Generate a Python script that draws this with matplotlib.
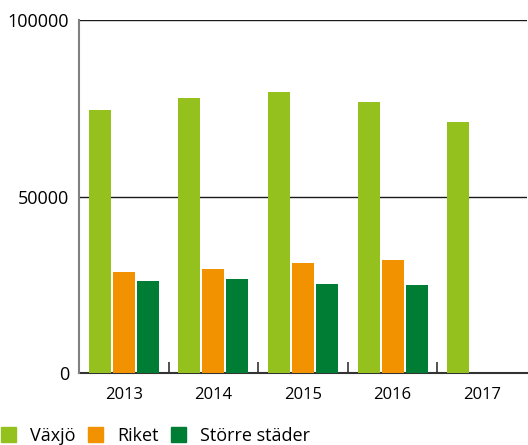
import matplotlib.pyplot as plt
import numpy as np
from matplotlib.patches import Patch

plt.rcParams["font.family"] = ["Open Sans", "DejaVu Sans"]

YEARS = ["2013", "2014", "2015", "2016", "2017"]
VAXJO = [74500, 77900, 79600, 76800, 71100]
RIKET = [28600, 29500, 31200, 32000]
STORRE = [26100, 26600, 25200, 24900]
SERIES = ["Växjö", "Riket", "Större städer"]
COLORS = ["#95c11f", "#f39200", "#007d34"]


def main() -> None:
    fig = plt.figure(figsize=(5.28, 4.45), dpi=100)
    ax = fig.add_axes([79 / 528, 1 - 373 / 445, 448 / 528, 353 / 445])

    x = np.arange(len(YEARS))
    w = 0.245
    step = 0.268
    ax.bar(x - step, VAXJO, w, color=COLORS[0], zorder=3)
    ax.bar(x[: len(RIKET)], RIKET, w, color=COLORS[1], zorder=3)
    ax.bar(x[: len(STORRE)] + step, STORRE, w, color=COLORS[2], zorder=3)

    ax.set_xlim(-0.5, len(YEARS) - 0.5)
    ax.set_ylim(0, 100000)
    ax.set_yticks([0, 50000, 100000])
    ax.set_yticklabels(["0", "50000", "100000"])
    ax.tick_params(axis="y", length=0, pad=7, labelsize=13)
    ax.yaxis.grid(True, color="#1a1a1a", lw=1.0, zorder=1)

    ax.set_xticks(x)
    ax.set_xticklabels(YEARS)
    ax.tick_params(axis="x", which="major", length=0, pad=10, labelsize=12)
    ax.set_xticks(np.arange(0.5, len(YEARS) - 1), minor=True)
    ax.tick_params(axis="x", which="minor", direction="in", length=8,
                   width=1.2, color="#333333")

    for s in ("top", "right"):
        ax.spines[s].set_visible(False)
    ax.spines["left"].set_color("#808080")
    ax.spines["left"].set_linewidth(1.5)
    ax.spines["bottom"].set_color("#333333")
    ax.spines["bottom"].set_linewidth(1.5)
    ax.spines["left"].set_zorder(4)

    handles = [Patch(color=c, label=s) for c, s in zip(COLORS, SERIES)]
    fig.legend(handles=handles, loc="lower left", bbox_to_anchor=(-0.012, -0.016),
               ncol=3, frameon=False, fontsize=13, handlelength=0.85,
               handleheight=0.85, handletextpad=0.75, columnspacing=0.7,
               borderaxespad=0)

    fig.savefig("out.png", dpi=100)


if __name__ == "__main__":
    main()
